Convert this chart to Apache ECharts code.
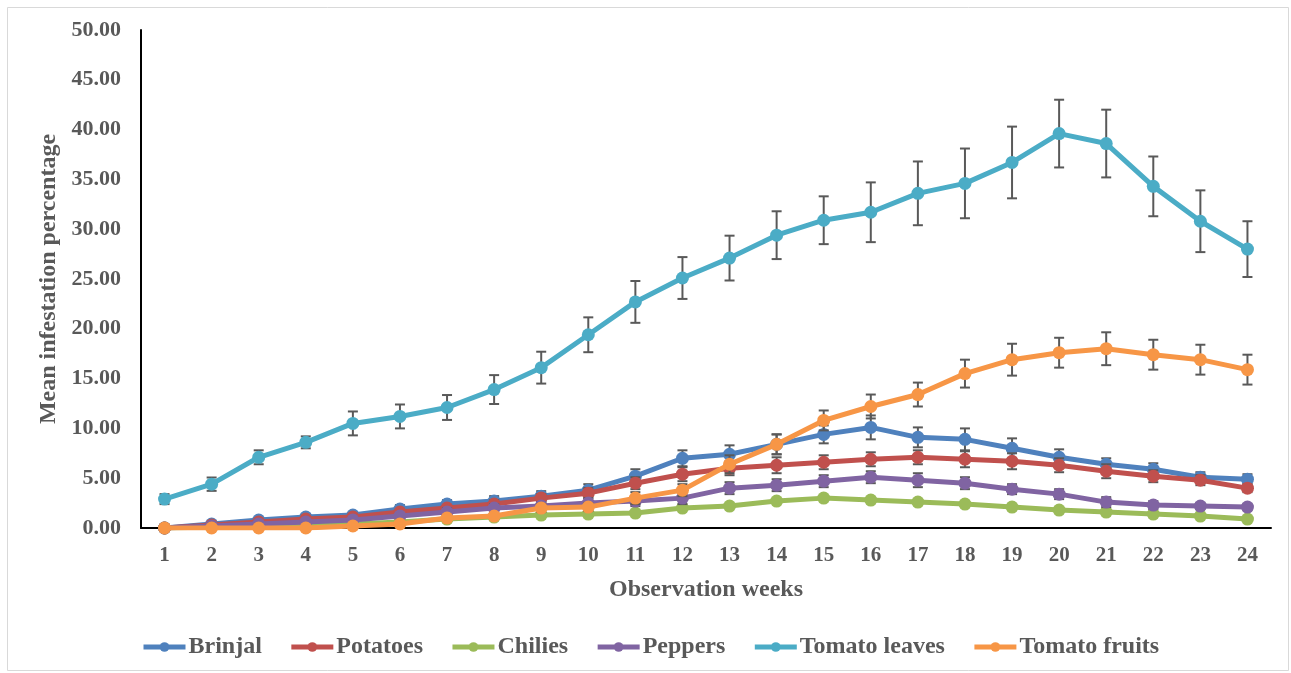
<!DOCTYPE html>
<html>
<head>
<meta charset="utf-8">
<script src="https://cdn.jsdelivr.net/npm/echarts@6/dist/echarts.min.js"></script>
<style>html,body{margin:0;padding:0;background:#fff;}#c{width:1291px;height:673px;}</style>
</head>
<body>
<div id="c"></div>
<script>
var weeks = ['1','2','3','4','5','6','7','8','9','10','11','12','13','14','15','16','17','18','19','20','21','22','23','24'];
var yTicks = [0, 5, 10, 15, 20, 25, 30, 35, 40, 45, 50];

var brinjal      = [0, 0.4, 0.8, 1.1, 1.3, 1.9, 2.4, 2.7, 3.2, 3.8, 5.2, 7.0, 7.4, 8.4, 9.4, 10.1, 9.1, 8.9, 8.0, 7.1, 6.4, 5.9, 5.1, 4.9];
var potatoes     = [0, 0.3, 0.6, 0.9, 1.1, 1.6, 2.0, 2.4, 3.0, 3.5, 4.5, 5.4, 6.0, 6.3, 6.6, 6.9, 7.1, 6.9, 6.7, 6.3, 5.7, 5.2, 4.8, 4.0];
var chilies      = [0, 0.1, 0.2, 0.3, 0.4, 0.6, 0.9, 1.1, 1.3, 1.4, 1.5, 2.0, 2.2, 2.7, 3.0, 2.8, 2.6, 2.4, 2.1, 1.8, 1.6, 1.4, 1.2, 0.9];
var peppers      = [0, 0.2, 0.4, 0.6, 0.8, 1.2, 1.6, 2.0, 2.2, 2.5, 2.7, 3.0, 4.0, 4.3, 4.7, 5.1, 4.8, 4.5, 3.9, 3.4, 2.6, 2.3, 2.2, 2.1];
var tomatoLeaves = [2.9, 4.4, 7.1, 8.6, 10.5, 11.2, 12.1, 13.9, 16.1, 19.4, 22.7, 25.1, 27.1, 29.4, 30.9, 31.7, 33.6, 34.6, 36.7, 39.6, 38.6, 34.3, 30.8, 28.0];
var tomatoFruits = [0, 0, 0, 0, 0.2, 0.4, 1.0, 1.2, 2.0, 2.1, 3.0, 3.8, 6.4, 8.4, 10.8, 12.2, 13.4, 15.5, 16.9, 17.6, 18.0, 17.4, 16.9, 15.9];

var brinjalErr      = [0, 0.2, 0.2, 0.3, 0.3, 0.4, 0.4, 0.5, 0.5, 0.6, 0.7, 0.8, 0.9, 1.0, 0.9, 1.2, 1.0, 1.1, 1.0, 0.8, 0.6, 0.6, 0.5, 0.5];
var potatoesErr     = [0, 0.1, 0.2, 0.2, 0.3, 0.3, 0.3, 0.4, 0.4, 0.5, 0.6, 0.7, 0.7, 0.8, 0.7, 0.7, 0.7, 0.8, 0.8, 0.7, 0.7, 0.6, 0.5, 0.4];
var chiliesErr      = [0, 0.1, 0.1, 0.1, 0.1, 0.1, 0.2, 0.2, 0.2, 0.2, 0.2, 0.2, 0.2, 0.2, 0.2, 0.2, 0.2, 0.2, 0.2, 0.2, 0.2, 0.2, 0.1, 0.1];
var peppersErr      = [0, 0.1, 0.2, 0.2, 0.3, 0.3, 0.4, 0.4, 0.4, 0.5, 0.5, 0.6, 0.6, 0.6, 0.6, 0.6, 0.7, 0.6, 0.5, 0.5, 0.5, 0.4, 0.3, 0.3];
var tomatoLeavesErr = [0.5, 0.67, 0.7, 0.6, 1.2, 1.2, 1.25, 1.45, 1.6, 1.75, 2.1, 2.1, 2.25, 2.4, 2.4, 3.0, 3.2, 3.5, 3.6, 3.4, 3.4, 3.0, 3.1, 2.8];
var tomatoFruitsErr = [0, 0, 0, 0, 0.1, 0.2, 0.3, 0.3, 0.4, 0.4, 0.6, 0.6, 0.9, 1.0, 1.0, 1.2, 1.2, 1.4, 1.6, 1.5, 1.65, 1.5, 1.5, 1.5];

var seriesNames = ['Brinjal', 'Potatoes', 'Chilies', 'Peppers', 'Tomato leaves', 'Tomato fruits'];
var seriesColors = ['#4F81BD', '#C0504D', '#9BBB59', '#8064A2', '#4BACC6', '#F79646'];
var seriesValues = [brinjal, potatoes, chilies, peppers, tomatoLeaves, tomatoFruits];
var seriesErrors = [brinjalErr, potatoesErr, chiliesErr, peppersErr, tomatoLeavesErr, tomatoFruitsErr];

var FONT = '"Liberation Serif", "Times New Roman", serif';
var TXT = '#595959';

function errorRender(params, api) {
  var xi = api.value(0);
  var lo = api.coord([xi, api.value(1)]);
  var hi = api.coord([xi, api.value(2)]);
  var cap = 5;
  var st = { stroke: '#595959', lineWidth: 2 };
  return {
    type: 'group',
    children: [
      { type: 'line', shape: { x1: hi[0], y1: hi[1], x2: lo[0], y2: lo[1] }, style: st },
      { type: 'line', shape: { x1: hi[0] - cap, y1: hi[1], x2: hi[0] + cap, y2: hi[1] }, style: st },
      { type: 'line', shape: { x1: lo[0] - cap, y1: lo[1], x2: lo[0] + cap, y2: lo[1] }, style: st }
    ]
  };
}

var series = [];
for (var s = 0; s < seriesNames.length; s++) {
  var vals = seriesValues[s], errs = seriesErrors[s];
  var eb = [];
  for (var i = 0; i < vals.length; i++) {
    if (errs[i] > 0) eb.push([i, vals[i] - errs[i], vals[i] + errs[i]]);
  }
  series.push({
    type: 'custom',
    name: seriesNames[s] + ' err',
    renderItem: errorRender,
    data: eb,
    z: 2 + s * 2,
    silent: true,
    encode: { x: 0, y: [1, 2] }
  });
  series.push({
    type: 'line',
    name: seriesNames[s],
    data: vals,
    symbol: 'circle',
    symbolSize: 13,
    lineStyle: { width: 5, color: seriesColors[s] },
    itemStyle: { color: seriesColors[s] },
    z: 3 + s * 2,
    animation: false
  });
}

var chart = echarts.init(document.getElementById('c'), null, { renderer: 'canvas' });
chart.setOption({
  animation: false,
  backgroundColor: '#ffffff',
  graphic: [{
    type: 'rect', left: 5, top: 5,
    shape: { width: 1281, height: 663 },
    style: { fill: 'none', stroke: '#d9d9d9', lineWidth: 1 },
    z: -1
  }],
  grid: { left: 141, right: 20, top: 30, bottom: 145, containLabel: false },
  legend: {
    bottom: 9,
    left: 136,
    data: seriesNames,
    itemWidth: 42,
    itemHeight: 12,
    itemGap: 27,
    lineStyle: { width: 5 },
    textStyle: { fontFamily: FONT, fontWeight: 'bold', fontSize: 24, color: TXT, padding: [0, 0, 0, -2] }
  },
  xAxis: {
    type: 'category',
    data: weeks,
    boundaryGap: true,
    axisLine: { lineStyle: { color: '#000', width: 2 } },
    axisTick: { show: false },
    axisLabel: { fontFamily: FONT, fontWeight: 'bold', fontSize: 21, color: TXT, margin: 17 },
    name: 'Observation weeks',
    nameLocation: 'middle',
    nameGap: 50,
    nameTextStyle: { fontFamily: FONT, fontWeight: 'bold', fontSize: 24, color: TXT }
  },
  yAxis: {
    type: 'value',
    min: yTicks[0],
    max: yTicks[yTicks.length - 1],
    interval: yTicks[1] - yTicks[0],
    axisLine: { show: true, lineStyle: { color: '#000', width: 2 } },
    axisTick: { show: false },
    splitLine: { show: false },
    axisLabel: {
      fontFamily: FONT, fontWeight: 'bold', fontSize: 22, color: TXT, margin: 20,
      formatter: function (v) { return v.toFixed(2); }
    },
    name: 'Mean infestation percentage',
    nameLocation: 'middle',
    nameGap: 80,
    nameTextStyle: { fontFamily: FONT, fontWeight: 'bold', fontSize: 24, color: TXT }
  },
  series: series
});
</script>
</body>
</html>
